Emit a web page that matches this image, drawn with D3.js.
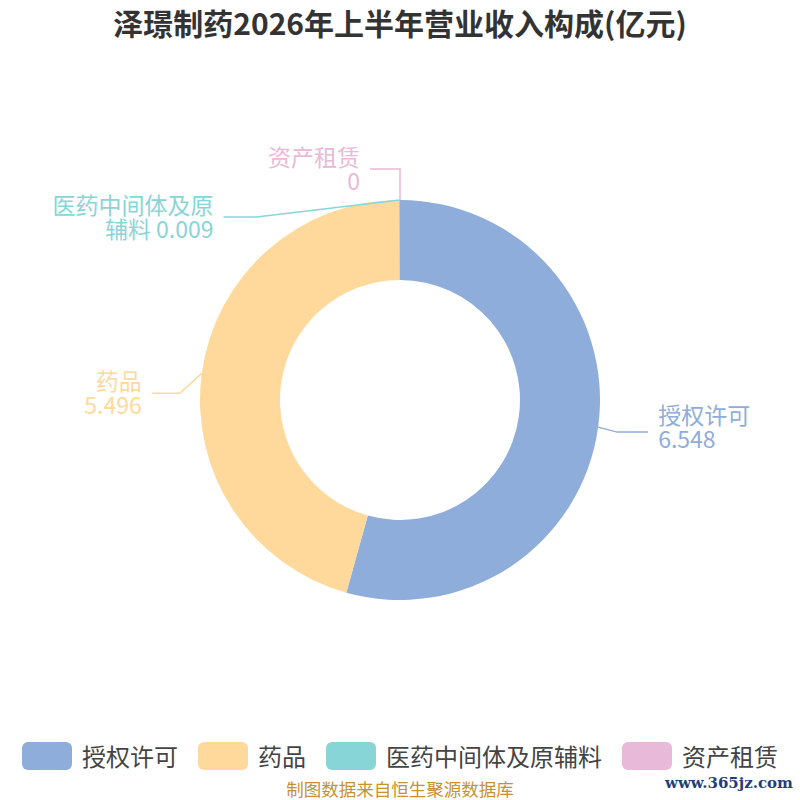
<!DOCTYPE html>
<html>
<head>
<meta charset="utf-8">
<script src="https://cdn.jsdelivr.net/npm/d3@7/dist/d3.min.js"></script>
<style>
html,body{margin:0;padding:0;background:#fff;}
svg{display:block;}
text{font-family:"Noto Sans CJK SC","Noto Sans",sans-serif;}
</style>
</head>
<body>
<svg id="chart" width="800" height="800"></svg>
<script>
// ---- data ----
const titleText = "泽璟制药2026年上半年营业收入构成(亿元)";
const categories = ["授权许可", "药品", "医药中间体及原辅料", "资产租赁"];
const values = [6.548, 5.496, 0.009, 0];
const valueLabels = ["6.548", "5.496", "0.009", "0"];
const colors = ["#8eaddb", "#fed99b", "#88d5d8", "#e8b9d8"];
const sourceText = "制图数据来自恒生聚源数据库";
const watermark = "www.365jz.com";

// ---- layout ----
const W = 800, H = 800;
const cx = 400, cy = 400, rOuter = 200, rInner = 120;
// label layout: elbow offset from slice edge, second segment length, side, text lines, vertical shift
const labelLayout = [
  {dx: 19, dy: 5, len2: 31, side: 1, lines: [categories[0], valueLabels[0]], shift: -5},
  {dx: -22, dy: 20, len2: 28, side: -1, lines: [categories[1], valueLabels[1]], shift: 0},
  {dx: -143, dy: 17, len2: 33, side: -1, lines: ["医药中间体及原", "辅料 " + valueLabels[2]], shift: 0},
  {dx: 0, dy: -31, len2: 30, side: -1, lines: [categories[3], valueLabels[3]], shift: 0}
];

const data = categories.map((c, i) => ({name: c, value: values[i], color: colors[i]}));

const svg = d3.select("#chart");

svg.append("text")
  .attr("x", W / 2).attr("y", 22)
  .attr("text-anchor", "middle").attr("dominant-baseline", "central")
  .attr("font-size", 30).attr("font-weight", "bold").attr("fill", "#333")
  .text(titleText);

const pie = d3.pie().sort(null).value(d => d.value).startAngle(0).endAngle(2 * Math.PI);
const arcs = pie(data);
const arc = d3.arc().innerRadius(rInner).outerRadius(rOuter);
const edgeArc = d3.arc().innerRadius(rOuter).outerRadius(rOuter);

const g = svg.append("g").attr("transform", `translate(${cx},${cy})`);

g.selectAll("path.slice").data(arcs).enter().append("path")
  .attr("class", "slice")
  .attr("d", arc)
  .attr("fill", d => d.data.color);

// labels
arcs.forEach((a, i) => {
  const L = labelLayout[i];
  const p0 = edgeArc.centroid(a);
  const p1 = [p0[0] + L.dx, p0[1] + L.dy];
  const p2 = [p1[0] + L.side * L.len2, p1[1]];
  g.append("polyline")
    .attr("points", [p0, p1, p2].map(p => p.join(",")).join(" "))
    .attr("fill", "none").attr("stroke", a.data.color).attr("stroke-width", 1.5);
  const tx = p2[0] + L.side * 10;
  const t = g.append("text")
    .attr("text-anchor", L.side > 0 ? "start" : "end")
    .attr("font-size", 23).attr("fill", a.data.color);
  t.append("tspan").attr("x", tx).attr("y", p1[1] - 13 + L.shift)
    .attr("dominant-baseline", "central").text(L.lines[0]);
  t.append("tspan").attr("x", tx).attr("y", p1[1] + 11 + L.shift)
    .attr("dominant-baseline", "central").text(L.lines[1]);
});

// legend
const legendX = [22, 198, 326, 622];
const leg = svg.append("g");
data.forEach((d, i) => {
  leg.append("rect")
    .attr("x", legendX[i]).attr("y", 742).attr("width", 50).attr("height", 28)
    .attr("rx", 6).attr("fill", d.color);
  leg.append("text")
    .attr("x", legendX[i] + 60).attr("y", 755)
    .attr("dominant-baseline", "central")
    .attr("font-size", 24).attr("fill", "#444")
    .text(d.name);
});

svg.append("text")
  .attr("x", W / 2).attr("y", 788)
  .attr("text-anchor", "middle").attr("dominant-baseline", "central")
  .attr("font-size", 17.5).attr("fill", "#c8912f")
  .text(sourceText);

svg.append("text")
  .attr("x", 793).attr("y", 783)
  .attr("text-anchor", "end").attr("dominant-baseline", "central")
  .attr("font-size", 15).attr("font-weight", "bold")
  .attr("fill", "#1f3f7a")
  .style("font-family", "'DejaVu Serif','Liberation Serif',serif")
  .text(watermark);
</script>
</body>
</html>
